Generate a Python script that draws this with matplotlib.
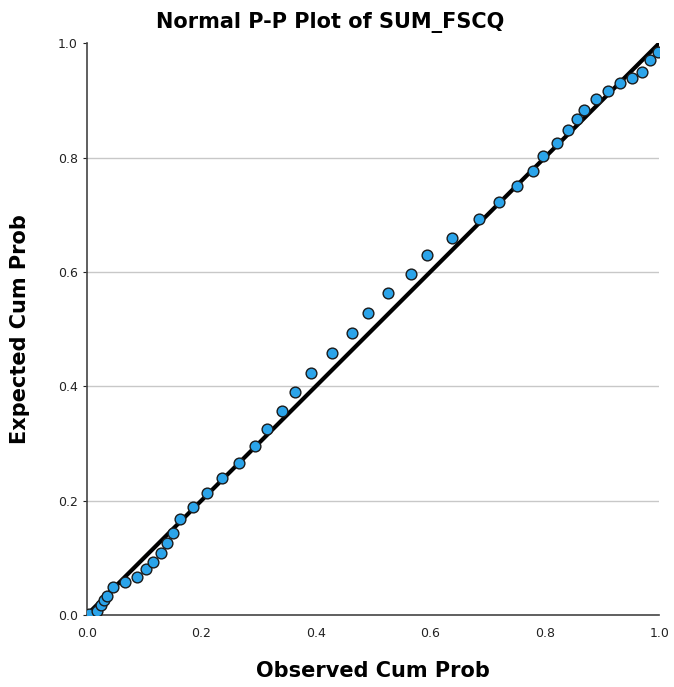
import matplotlib
matplotlib.use("Agg")
import matplotlib.pyplot as plt

# observed vs expected cumulative probability
observed = [0.004, 0.018, 0.025, 0.030, 0.035, 0.045, 0.066, 0.087, 0.103, 0.115,
            0.129, 0.140, 0.150, 0.163, 0.185, 0.210, 0.236, 0.266, 0.294, 0.315,
            0.341, 0.364, 0.391, 0.428, 0.463, 0.491, 0.526, 0.566, 0.594, 0.638,
            0.685, 0.720, 0.751, 0.780, 0.797, 0.821, 0.841, 0.856, 0.869, 0.889,
            0.911, 0.932, 0.952, 0.970, 0.984, 0.998]
expected = [0.002, 0.007, 0.018, 0.026, 0.033, 0.049, 0.057, 0.067, 0.080, 0.093,
            0.109, 0.126, 0.143, 0.168, 0.189, 0.213, 0.240, 0.266, 0.295, 0.325,
            0.357, 0.390, 0.424, 0.458, 0.493, 0.528, 0.563, 0.596, 0.629, 0.660,
            0.692, 0.723, 0.751, 0.776, 0.803, 0.826, 0.848, 0.867, 0.884, 0.902,
            0.917, 0.930, 0.939, 0.950, 0.970, 0.985]
ticks = [0.0, 0.2, 0.4, 0.6, 0.8, 1.0]
tick_labels = ["0.0", "0.2", "0.4", "0.6", "0.8", "1.0"]

fonts = ['Liberation Sans Narrow', 'DejaVu Sans']

fig = plt.figure(figsize=(6.74, 6.87), dpi=100)
ax = fig.add_axes([0.129, 0.105, 0.849, 0.832])

# horizontal grid only (not at the top)
for t in ticks[1:-1]:
    ax.axhline(t, color='#c8c8c8', linewidth=1, zorder=0)

# reference line
ax.plot([0, 1], [0, 1], color='black', linewidth=3, zorder=2)

ax.scatter(observed, expected, s=60, color='#2ba4ea', edgecolor='#1a1a1a',
           linewidth=1, zorder=3)

ax.set_xlim(0, 1)
ax.set_ylim(0, 1)
ax.set_xticks(ticks)
ax.set_xticklabels(tick_labels)
ax.set_yticks(ticks)
ax.set_yticklabels(tick_labels)
ax.tick_params(axis='both', labelsize=9, colors='#222222', length=3, width=0.8)
ax.tick_params(axis='x', length=0, pad=9)

for side in ['top', 'right']:
    ax.spines[side].set_visible(False)
for side in ['left', 'bottom']:
    ax.spines[side].set_color('#444444')
    ax.spines[side].set_linewidth(1.2)

ax.set_xlabel("Observed Cum Prob", fontsize=15, fontweight='bold', family=fonts, labelpad=15)
ax.set_ylabel("Expected Cum Prob", fontsize=15, fontweight='bold', family=fonts, labelpad=20)
fig.text(0.49, 0.967, "Normal P-P Plot of SUM_FSCQ", ha='center', va='center',
         fontsize=15, fontweight='bold', family=fonts)

fig.savefig("out.png", dpi=100)
